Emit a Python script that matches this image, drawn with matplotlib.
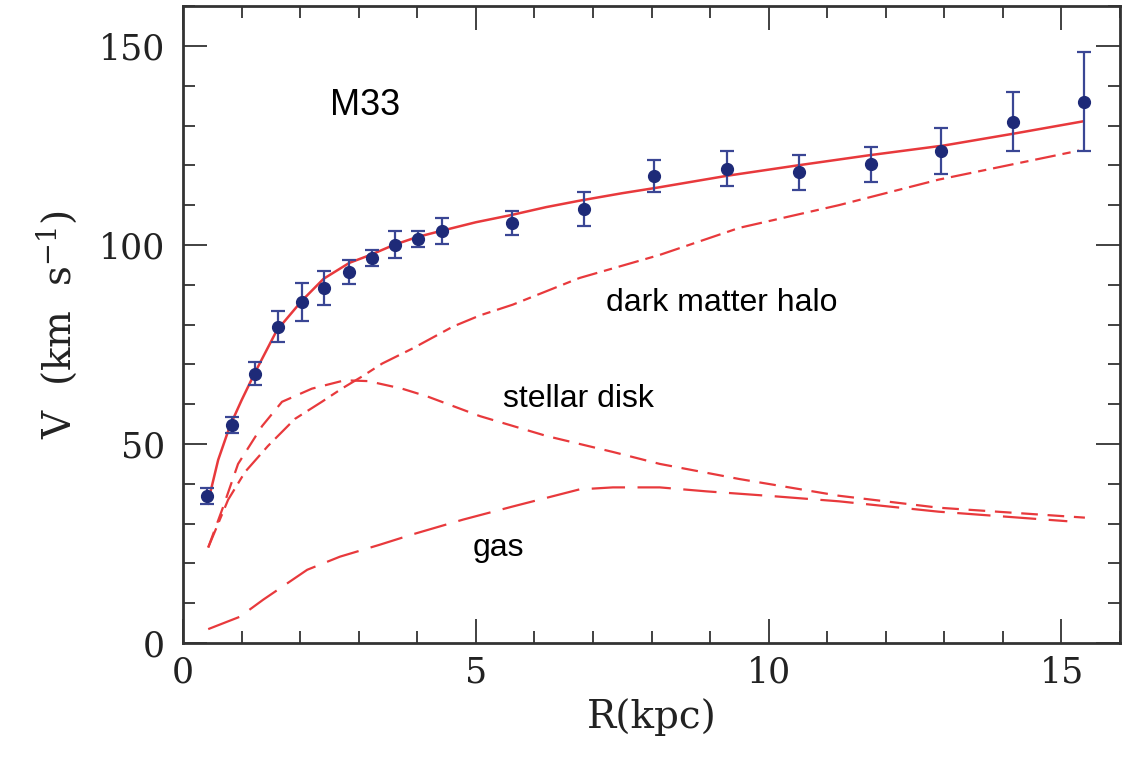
import matplotlib
matplotlib.use('Agg')
import matplotlib.pyplot as plt

# observed rotation curve of M33
r_obs = [0.41, 0.84, 1.23, 1.62, 2.03, 2.41, 2.84, 3.22, 3.62, 4.01, 4.42,
         5.61, 6.84, 8.05, 9.28, 10.51, 11.74, 12.95, 14.18, 15.39]
v_obs = [36.9, 54.8, 67.7, 79.5, 85.6, 89.1, 93.2, 96.7, 100.0, 101.5, 103.5,
         105.5, 109.1, 117.4, 119.2, 118.2, 120.3, 123.5, 131.0, 136.0]
v_err = [2.0, 2.0, 3.0, 4.0, 4.8, 4.3, 3.0, 2.0, 3.4, 2.0, 3.3,
         3.1, 4.3, 4.0, 4.3, 4.4, 4.4, 5.8, 7.5, 12.5]

# best fit total
r_fit = [0.42, 0.6, 0.8, 1.0, 1.22, 1.6, 2.03, 2.4, 2.84, 3.2, 3.6, 4.0, 4.4,
         5.0, 5.6, 6.2, 6.8, 7.5, 8.1, 9.3, 10.5, 11.7, 13.0, 14.2, 15.35]
v_fit = [35, 46, 54.5, 61, 67.7, 78.5, 86, 91.5, 95.5, 97.5, 100, 102, 103.5,
         105.7, 107.5, 109.5, 111.2, 113, 114.4, 117.4, 120, 122.5, 125, 128, 131]

# dark matter halo
r_halo = [0.43, 0.77, 1.06, 1.45, 1.91, 2.37, 2.71, 3.05, 3.4, 3.92, 4.61,
          5.07, 5.63, 6.77, 8.14, 9.5, 11.2, 12.9, 15.3]
v_halo = [24, 36, 43, 49.5, 56.3, 60.6, 63.9, 66.9, 70.2, 74, 79.5,
          82.3, 85, 91.7, 97.5, 104.3, 110, 116.4, 123.7]

# stellar disk
r_disk = [0.43, 0.68, 0.94, 1.35, 1.69, 2.2, 2.76, 3.16, 3.74, 4.18, 5.07,
          6.21, 7.34, 8.14, 9.5, 11.2, 12.9, 15.4]
v_disk = [24, 34, 45, 54.5, 60.6, 63.9, 66, 65.8, 63.9, 61.9, 57,
          52, 48, 45, 41.2, 37, 34, 31.5]

# gas
r_gas = [0.43, 0.97, 1.37, 2.12, 2.68, 3.36, 3.92, 4.78, 5.63, 6.77, 7.34,
         8.14, 8.94, 10.07, 11.2, 12.9, 15.1]
v_gas = [3.5, 6.6, 10.9, 18.4, 21.7, 24.7, 27.3, 31, 34.3, 38.6, 39.1,
         39.1, 38.1, 36.9, 35.6, 33, 30.6]

plt.rcParams['lines.scale_dashes'] = False
plt.rcParams['mathtext.fontset'] = 'dejavuserif'

red = '#e8393c'
navy = '#1e2a78'

fig = plt.figure(figsize=(11.34, 7.61), dpi=100)
ax = fig.add_axes([0.1614, 0.155, 0.8263, 0.837])

ax.plot(r_fit, v_fit, color=red, lw=1.8)
ax.plot(r_halo, v_halo, color=red, lw=1.6, dashes=(15, 5, 6, 5))
ax.plot(r_disk, v_disk, color=red, lw=1.6, dashes=(12, 7))
ax.plot(r_gas, v_gas, color=red, lw=1.6, dashes=(24, 9))
ax.errorbar(r_obs, v_obs, yerr=v_err, fmt='o', color=navy, ecolor='#3a4694',
            ms=8.5, elinewidth=1.6, capsize=5, capthick=1.6, zorder=5)

sans = 'Liberation Sans'
ax.text(3.1, 135, 'M33', fontsize=26, family=sans, ha='center', va='center')
ax.text(9.2, 85.4, 'dark matter halo', fontsize=23, family=sans, ha='center', va='center')
ax.text(6.76, 61.4, 'stellar disk', fontsize=23, family=sans, ha='center', va='center')
ax.text(5.38, 24, 'gas', fontsize=23, family=sans, ha='center', va='center')

ax.set_xlim(0, 16)
ax.set_ylim(0, 160)
ax.set_xticks([0, 5, 10, 15])
ax.set_xticks(range(0, 17), minor=True)
ax.set_yticks([0, 50, 100, 150])
ax.set_yticks(range(0, 161, 10), minor=True)
ax.tick_params(which='both', direction='in', top=True, right=True,
               color='#333333', width=1.3)
ax.tick_params(which='major', length=17)
ax.tick_params(which='minor', length=8.5)
ax.tick_params(axis='y', pad=13)
ax.tick_params(axis='x', pad=9)
for lab in ax.get_xticklabels() + ax.get_yticklabels():
    lab.set_family('DejaVu Serif')
    lab.set_fontsize(25)
    lab.set_color('#222222')
for s in ax.spines.values():
    s.set_linewidth(2)
    s.set_color('#333333')

ax.set_xlabel('R(kpc)', family='DejaVu Serif', fontsize=28, color='#222222', labelpad=6)
ax.set_ylabel('V  (km  s$^{-1}$)', family='DejaVu Serif', fontsize=28, color='#222222', labelpad=14)

fig.savefig('out.png', dpi=100)
